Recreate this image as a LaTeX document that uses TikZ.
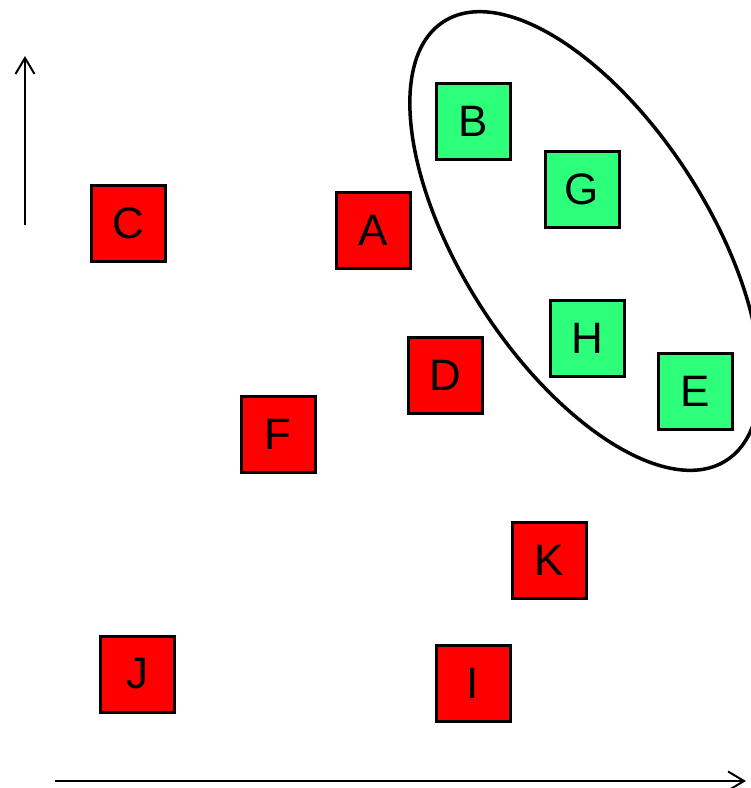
\documentclass[tikz,border=0pt]{standalone}
\usepackage{fontspec}
\setmainfont{Liberation Sans}
\usetikzlibrary{arrows.meta}
\definecolor{boxred}{RGB}{255,0,0}
\definecolor{boxgreen}{RGB}{46,255,122}
\tikzset{
  sq/.style={draw=black, line width=3pt, minimum width=74pt, minimum height=76pt, inner sep=0pt, font=\fontsize{44}{44}\selectfont},
  redsq/.style={sq, fill=boxred},
  greensq/.style={sq, fill=boxgreen},
  axis/.style={line width=2pt, -{Straight Barb[length=16pt,width=19pt,line width=2pt]}}
}
\begin{document}
\begin{tikzpicture}[x=1pt,y=-1pt]
\useasboundingbox (0,0) rectangle (751,788);
\draw[line width=3.5pt, rotate around={-57.2:(585,241)}] (585,241) ellipse [x radius=261, y radius=123];
\node[redsq] (C) at (128,223) {C};
\node[redsq] (A) at (373,230) {A};
\node[greensq] (B) at (473,121) {B};
\node[greensq] (G) at (582,189) {G};
\node[greensq] (H) at (587,338) {H};
\node[greensq] (E) at (695,391) {E};
\node[redsq] (D) at (445,375) {D};
\node[redsq] (F) at (278,434) {F};
\node[redsq] (K) at (549,560) {K};
\node[redsq] (J) at (137,674) {J};
\node[redsq] (I) at (473,683) {I};
\coordinate (v0) at (25,225);
\coordinate (v1) at (25,56);
\coordinate (h0) at (55,781);
\coordinate (h1) at (746,781);
\draw[axis] (v0) -- (v1);
\draw[axis] (h0) -- (h1);
\end{tikzpicture}
\end{document}
